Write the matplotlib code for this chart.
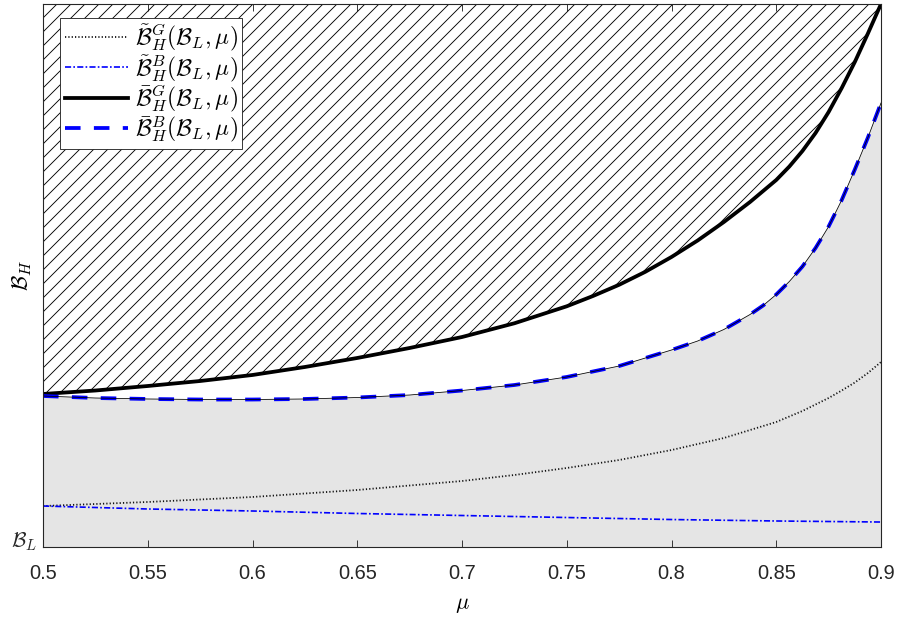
import numpy as np
import matplotlib
matplotlib.use("Agg")
import matplotlib.pyplot as plt
from matplotlib.collections import LineCollection

# ---- data (y in units where B_L = 0 and top of axis = 1) ----
mu_barG = [0.5, 0.525, 0.55, 0.575, 0.6, 0.625, 0.65, 0.675, 0.7, 0.725, 0.75, 0.7625,
           0.775, 0.7875, 0.8, 0.8125, 0.825, 0.8375, 0.85, 0.85625, 0.8625, 0.86875,
           0.875, 0.88125, 0.8875, 0.89375, 0.9]
bar_BG = [0.2818, 0.2882, 0.2965, 0.3057, 0.3168, 0.3315, 0.3481, 0.3665, 0.3867, 0.4120,
          0.4433, 0.4622, 0.4829, 0.5068, 0.5341, 0.5645, 0.5985, 0.6354, 0.6759, 0.7007,
          0.7293, 0.7624, 0.8011, 0.8453, 0.8932, 0.9457, 1.0]

mu_barB = [0.5, 0.525, 0.55, 0.575, 0.6, 0.625, 0.65, 0.675, 0.7, 0.725, 0.75, 0.775,
           0.8, 0.8125, 0.825, 0.8375, 0.84375, 0.85, 0.85625, 0.8625, 0.86875, 0.875,
           0.88125, 0.8875, 0.89375, 0.9]
bar_BB = [0.2781, 0.2744, 0.2726, 0.2716, 0.2716, 0.2726, 0.2753, 0.2799, 0.2882, 0.2983,
          0.3131, 0.3333, 0.3628, 0.3794, 0.4006, 0.4282, 0.4448, 0.4650, 0.4890, 0.5166,
          0.5506, 0.5902, 0.6390, 0.6952, 0.7541, 0.8177]

mu_tG = [0.5, 0.55, 0.6, 0.65, 0.7, 0.725, 0.75, 0.775, 0.8, 0.825, 0.85, 0.8625, 0.875,
         0.88125, 0.8875, 0.89375, 0.9]
tilde_BG = [0.0755, 0.0829, 0.0921, 0.1050, 0.1215, 0.1326, 0.1455, 0.1602, 0.1786, 0.2007,
            0.2302, 0.2505, 0.2744, 0.2882, 0.3029, 0.3204, 0.3407]

mu_tB = [0.5, 0.55, 0.6, 0.65, 0.7, 0.75, 0.8, 0.85, 0.9]
tilde_BB = [0.0755, 0.0700, 0.0663, 0.0617, 0.0580, 0.0543, 0.0506, 0.0479, 0.0460]

xticks = [0.5, 0.55, 0.6, 0.65, 0.7, 0.75, 0.8, 0.85, 0.9]
xticklabels = ['0.5', '0.55', '0.6', '0.65', '0.7', '0.75', '0.8', '0.85', '0.9']

labels = [r'$\tilde{\mathcal{B}}_H^G(\mathcal{B}_L,\mu)$',
          r'$\tilde{\mathcal{B}}_H^B(\mathcal{B}_L,\mu)$',
          r'$\bar{\mathcal{B}}_H^G(\mathcal{B}_L,\mu)$',
          r'$\bar{\mathcal{B}}_H^B(\mathcal{B}_L,\mu)$']

# ---- style ----
plt.rcParams['mathtext.fontset'] = 'cm'
plt.rcParams['font.family'] = ['Liberation Sans', 'DejaVu Sans']
plt.rcParams['lines.scale_dashes'] = False

DPI = 80
fig = plt.figure(figsize=(900 / DPI, 619 / DPI), dpi=DPI)
AX_W, AX_H = 838, 543
ax = fig.add_axes([43 / 900, 72 / 619, AX_W / 900, AX_H / 619])

# regions
ax.fill_between(mu_barB, 0, bar_BB, facecolor='#e5e5e5', edgecolor='none', zorder=1)
top = ax.fill_between(mu_barG, bar_BG, 1.0, facecolor='white', edgecolor='none',
                      linewidth=0, zorder=1)

# hatching (diagonal lines, clipped to the region above the solid curve)
step = 14.0  # px
segs = []
x0 = -AX_H
while x0 < AX_W:
    segs.append([(x0 / AX_W, 0.0), ((x0 + AX_H) / AX_W, 1.0)])
    x0 += step
hatch = LineCollection(segs, colors='black', linewidths=0.8,
                       transform=ax.transAxes, zorder=2)
ax.add_collection(hatch)
hatch.set_clip_path(top.get_paths()[0], ax.transData)

# curves
l1, = ax.plot(mu_tG, tilde_BG, color='#111111', lw=1.6, dashes=(1.1, 1.9), zorder=3)
l2, = ax.plot(mu_tB, tilde_BB, color='#0000ff', lw=1.5, dashes=(5.5, 2.0, 1.5, 2.0), zorder=3)
l3, = ax.plot(mu_barG, bar_BG, color='black', lw=3.4, zorder=4)
l4, = ax.plot(mu_barB, bar_BB, color='#0000ff', lw=3.4, dashes=(14, 12), zorder=4)
ax.plot(mu_barB, bar_BB, color='black', lw=0.7, zorder=5)

ax.set_xlim(0.5, 0.9)
ax.set_ylim(0, 1)
ax.set_xticks(xticks)
ax.set_xticklabels(xticklabels, fontsize=18)
ax.set_yticks([0])
ax.set_yticklabels([r'$\mathcal{B}_L$'], fontsize=19)
for t in ax.get_yticklabels():
    t.set_va('baseline')
ax.tick_params(axis='x', direction='in', length=6, width=0.8, top=True,
               pad=15, colors='#262626')
ax.tick_params(axis='y', direction='in', length=0, pad=5, colors='#262626')
for sp in ax.spines.values():
    sp.set_linewidth(1.0)
    sp.set_color('#262626')
    sp.set_zorder(10)

ax.set_xlabel(r'$\mu$', fontsize=20, labelpad=10)
ax.set_ylabel(r'$\mathcal{B}_H$', fontsize=20)
ax.yaxis.set_label_coords(-0.011, 0.5)

leg = ax.legend([l1, l2, l3, l4], labels, loc='upper left',
                bbox_to_anchor=(17 / AX_W, 1 - 14 / AX_H), fontsize=21,
                frameon=True, fancybox=False, framealpha=1, edgecolor='#262626',
                handlelength=2.7, handletextpad=0.3, borderpad=0.2,
                labelspacing=0.0, borderaxespad=0)
leg.get_frame().set_linewidth(0.8)
leg.set_zorder(20)

fig.savefig('out.png', dpi=DPI)
